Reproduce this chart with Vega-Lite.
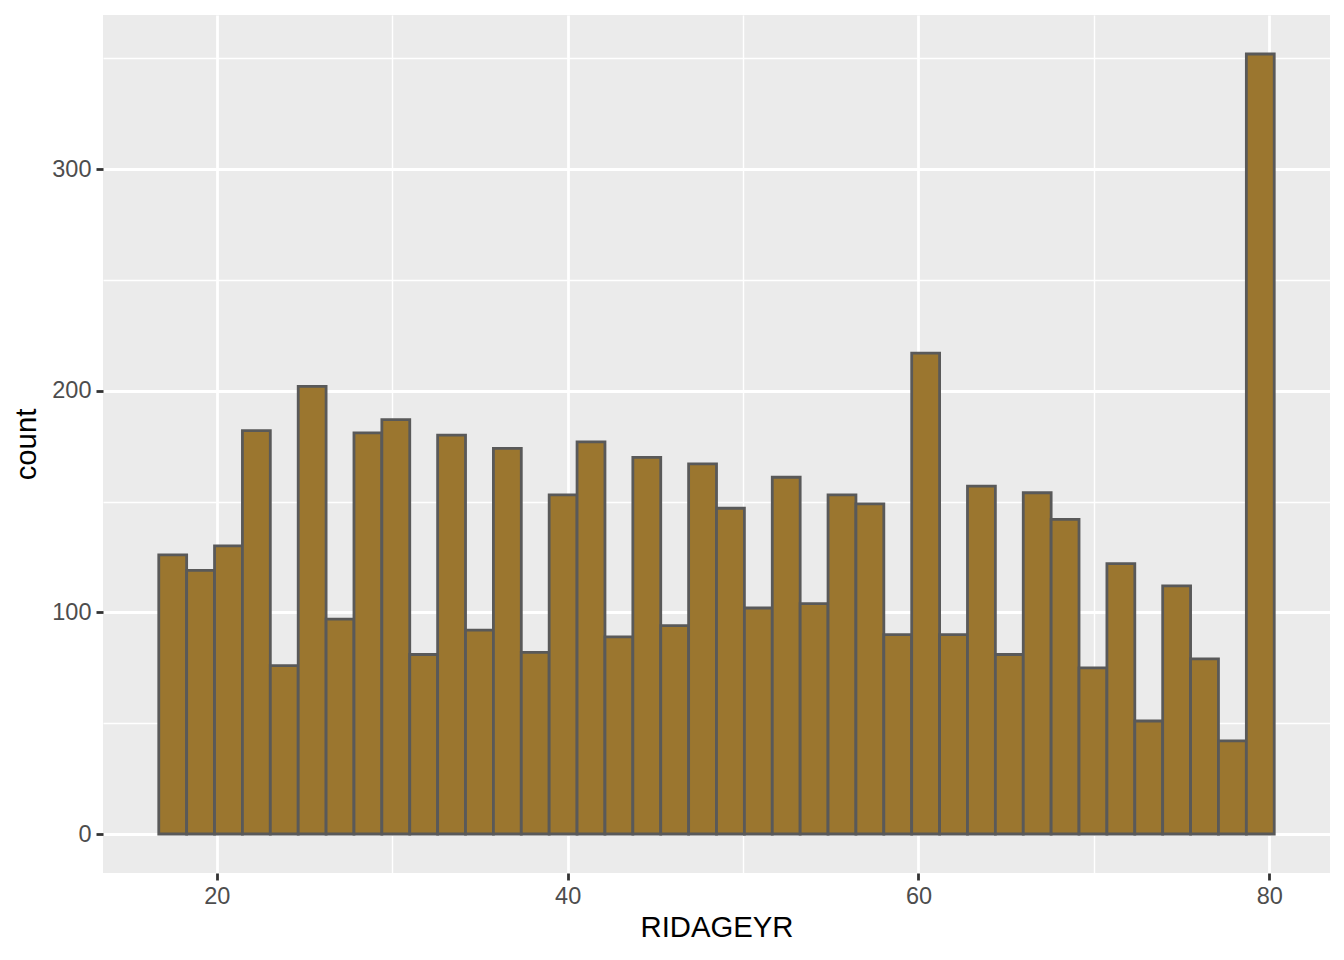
{
  "$schema": "https://vega.github.io/schema/vega-lite/v6.json",
  "width": 1227,
  "height": 858,
  "autosize": {"type": "none"},
  "padding": {"left": 103, "top": 15, "right": 14, "bottom": 87},
  "background": "white",
  "data": {
    "values": [
      {"start": 16.6923, "end": 18.2821, "count": 126},
      {"start": 18.2821, "end": 19.8718, "count": 119},
      {"start": 19.8718, "end": 21.4615, "count": 130},
      {"start": 21.4615, "end": 23.0513, "count": 182},
      {"start": 23.0513, "end": 24.6410, "count": 76},
      {"start": 24.6410, "end": 26.2308, "count": 202},
      {"start": 26.2308, "end": 27.8205, "count": 97},
      {"start": 27.8205, "end": 29.4103, "count": 181},
      {"start": 29.4103, "end": 31.0000, "count": 187},
      {"start": 31.0000, "end": 32.5897, "count": 81},
      {"start": 32.5897, "end": 34.1795, "count": 180},
      {"start": 34.1795, "end": 35.7692, "count": 92},
      {"start": 35.7692, "end": 37.3590, "count": 174},
      {"start": 37.3590, "end": 38.9487, "count": 82},
      {"start": 38.9487, "end": 40.5385, "count": 153},
      {"start": 40.5385, "end": 42.1282, "count": 177},
      {"start": 42.1282, "end": 43.7179, "count": 89},
      {"start": 43.7179, "end": 45.3077, "count": 170},
      {"start": 45.3077, "end": 46.8974, "count": 94},
      {"start": 46.8974, "end": 48.4872, "count": 167},
      {"start": 48.4872, "end": 50.0769, "count": 147},
      {"start": 50.0769, "end": 51.6667, "count": 102},
      {"start": 51.6667, "end": 53.2564, "count": 161},
      {"start": 53.2564, "end": 54.8462, "count": 104},
      {"start": 54.8462, "end": 56.4359, "count": 153},
      {"start": 56.4359, "end": 58.0256, "count": 149},
      {"start": 58.0256, "end": 59.6154, "count": 90},
      {"start": 59.6154, "end": 61.2051, "count": 217},
      {"start": 61.2051, "end": 62.7949, "count": 90},
      {"start": 62.7949, "end": 64.3846, "count": 157},
      {"start": 64.3846, "end": 65.9744, "count": 81},
      {"start": 65.9744, "end": 67.5641, "count": 154},
      {"start": 67.5641, "end": 69.1538, "count": 142},
      {"start": 69.1538, "end": 70.7436, "count": 75},
      {"start": 70.7436, "end": 72.3333, "count": 122},
      {"start": 72.3333, "end": 73.9231, "count": 51},
      {"start": 73.9231, "end": 75.5128, "count": 112},
      {"start": 75.5128, "end": 77.1026, "count": 79},
      {"start": 77.1026, "end": 78.6923, "count": 42},
      {"start": 78.6923, "end": 80.2821, "count": 352}
    ]
  },
  "mark": {"type": "bar", "fill": "#9B762F", "fillOpacity": 1, "stroke": "#595959", "strokeWidth": 2.8, "cornerRadius": 0},
  "encoding": {
    "x": {
      "field": "start",
      "type": "quantitative",
      "title": "RIDAGEYR",
      "scale": {"domain": [13.513, 83.461], "nice": false, "zero": false},
      "axis": {
        "values": [20, 30, 40, 50, 60, 70, 80],
        "labelExpr": "datum.value % 20 === 0 ? datum.label : ''",
        "gridWidth": {"condition": {"test": "datum.value % 20 === 0", "value": 2.8}, "value": 1.4},
        "tickOpacity": {"condition": {"test": "datum.value % 20 === 0", "value": 1}, "value": 0},
        "labelPadding": 4,
        "titlePadding": 6
      }
    },
    "x2": {"field": "end"},
    "y": {
      "field": "count",
      "type": "quantitative",
      "title": "count",
      "scale": {"domain": [-17.6, 369.6], "nice": false, "zero": false},
      "axis": {
        "values": [0, 50, 100, 150, 200, 250, 300, 350],
        "labelExpr": "datum.value % 100 === 0 ? datum.label : ''",
        "gridWidth": {"condition": {"test": "datum.value % 100 === 0", "value": 2.8}, "value": 1.4},
        "tickOpacity": {"condition": {"test": "datum.value % 100 === 0", "value": 1}, "value": 0},
        "labelPadding": 5,
        "titlePadding": 10
      }
    },
    "y2": {"datum": 0}
  },
  "config": {
    "view": {"fill": "#EBEBEB", "stroke": null},
    "axis": {
      "domain": false,
      "grid": true,
      "gridColor": "#FFFFFF",
      "tickColor": "#333333",
      "tickWidth": 2.8,
      "tickSize": 7,
      "labelFont": "Liberation Sans",
      "labelFontSize": 23.5,
      "labelColor": "#4D4D4D",
      "titleFont": "Liberation Sans",
      "titleFontSize": 29.3,
      "titleFontWeight": "normal",
      "titleColor": "#000000"
    }
  }
}
